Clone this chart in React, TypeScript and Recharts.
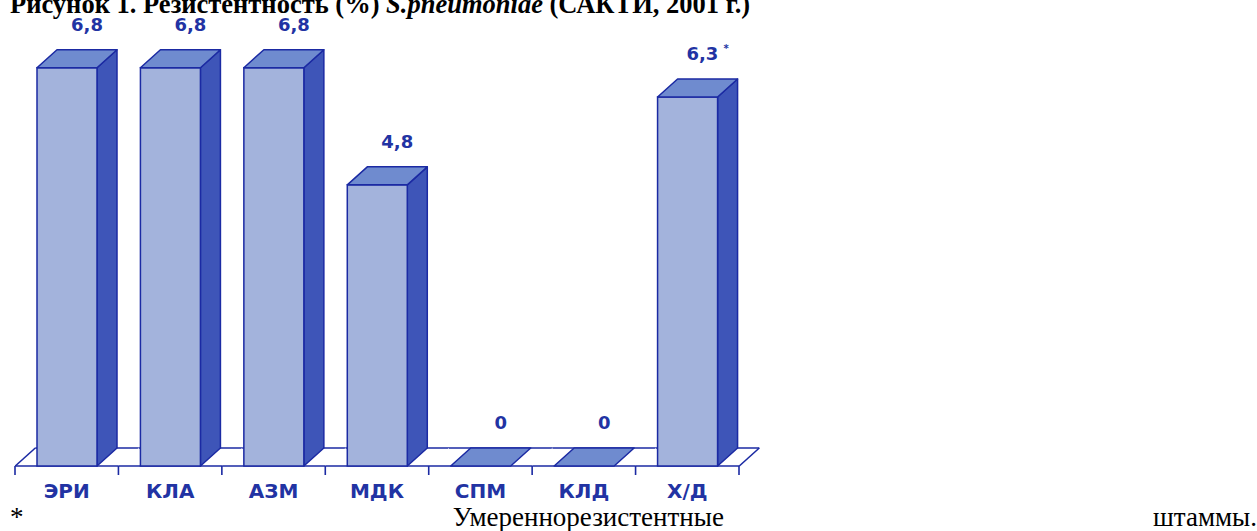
import { BarChart, Bar, XAxis, YAxis, LabelList } from "recharts";

const categories = ["ЭРИ", "КЛА", "АЗМ", "МДК", "СПМ", "КЛД", "Х/Д"];
const resistance = [6.8, 6.8, 6.8, 4.8, 0, 0, 6.3];
const notes = ["", "", "", "", "", "", "*"];

const data = categories.map((name, i) => ({
  name,
  value: resistance[i],
  note: notes[i],
}));

const W = 1257;
const H = 531;
const AXIS_H = 30;
const margin = { top: 56, right: 518, bottom: 35, left: 15 };
const BAND = (W - margin.left - margin.right) / categories.length;
const DX = 20;
const DY = 18;

const STROKE = "#1b2aa3";
const FRONT = "#a3b3dc";
const SIDE = "#3e55b8";
const TOP = "#6f8bcf";
const TEXT = "#2233a3";

const pts = (arr: number[][]) => arr.map((p) => p.join(",")).join(" ");

// 3D bar + its slice of the floor
const Bar3D = (props: any) => {
  const { x, y, width: w, height: h, index } = props;
  const y0 = y + h;
  const bs = x + w / 2 - BAND / 2;
  const last = index === categories.length - 1;
  return (
    <g>
      <polygon
        points={pts([
          [bs, y0],
          [bs + BAND, y0],
          [bs + BAND + DX, y0 - DY],
          [bs + DX, y0 - DY],
        ])}
        fill="#fff"
        stroke="none"
      />
      <line x1={bs} y1={y0} x2={bs + BAND} y2={y0} stroke={STROKE} strokeWidth={1.6} />
      <line x1={bs + DX} y1={y0 - DY} x2={bs + BAND + DX} y2={y0 - DY} stroke={STROKE} strokeWidth={1.6} />
      {index === 0 && (
        <line x1={bs} y1={y0} x2={bs + DX} y2={y0 - DY} stroke={STROKE} strokeWidth={1.6} />
      )}
      {last && (
        <line x1={bs + BAND} y1={y0} x2={bs + BAND + DX} y2={y0 - DY} stroke={STROKE} strokeWidth={1.6} />
      )}
      {h > 0 && (
        <polygon
          points={pts([
            [x + w, y],
            [x + w + DX, y - DY],
            [x + w + DX, y0 - DY],
            [x + w, y0],
          ])}
          fill={SIDE}
          stroke={STROKE}
          strokeWidth={1.5}
          strokeLinejoin="round"
        />
      )}
      {h > 0 && (
        <rect x={x} y={y} width={w} height={h} fill={FRONT} stroke={STROKE} strokeWidth={1.5} />
      )}
      <polygon
        points={pts([
          [x, y],
          [x + DX, y - DY],
          [x + w + DX, y - DY],
          [x + w, y],
        ])}
        fill={TOP}
        stroke={STROKE}
        strokeWidth={1.5}
        strokeLinejoin="round"
      />
    </g>
  );
};

const ValueLabel = (props: any) => {
  const { x, y, width, value, index } = props;
  const note = notes[index];
  return (
    <text
      x={x + width / 2 + 20}
      y={y - 37}
      textAnchor="middle"
      fill={TEXT}
      fontFamily="DejaVu Sans"
      fontWeight="bold"
      fontSize={18}
    >
      {String(value).replace(".", ",")}
      {note && (
        <tspan fontSize={10} dx={5} dy={-8}>
          {note}
        </tspan>
      )}
    </text>
  );
};

const CategoryTick = (props: any) => {
  const { x, y, payload, index } = props;
  const last = index === categories.length - 1;
  return (
    <g>
      <line x1={x - BAND / 2} y1={y} x2={x - BAND / 2} y2={y + 9} stroke={STROKE} strokeWidth={1.6} />
      {last && (
        <line x1={x + BAND / 2} y1={y} x2={x + BAND / 2} y2={y + 9} stroke={STROKE} strokeWidth={1.6} />
      )}
      <text
        x={x}
        y={y + 32}
        textAnchor="middle"
        fill={TEXT}
        fontFamily="DejaVu Sans"
        fontWeight="bold"
        fontSize={20}
      >
        {payload.value}
      </text>
    </g>
  );
};

export default function App() {
  return (
    <div
      style={{
        position: "absolute",
        left: 0,
        top: 0,
        width: W,
        height: H,
        overflow: "hidden",
        background: "#fff",
      }}
    >
      <div style={{ position: "absolute", left: 0, top: 0 }}>
        <BarChart width={W} height={H} data={data} margin={margin}>
          <XAxis
            dataKey="name"
            axisLine={false}
            tickLine={false}
            tickSize={0}
            tickMargin={0}
            height={AXIS_H}
            interval={0}
            tick={<CategoryTick />}
          />
          <YAxis hide domain={[0, 7]} />
          <Bar
            dataKey="value"
            barSize={60}
            shape={<Bar3D />}
            isAnimationActive={false}
          >
            <LabelList dataKey="value" content={<ValueLabel />} />
          </Bar>
        </BarChart>
      </div>
      <div
        style={{
          position: "absolute",
          left: 10,
          top: -9,
          fontFamily: "'Liberation Serif', 'Times New Roman', serif",
          fontWeight: "bold",
          fontSize: 26.5,
          lineHeight: "26.5px",
          whiteSpace: "nowrap",
          color: "#000",
        }}
      >
        Рисунок 1. Резистентность (%) <i>S.pneumoniae</i> (САКТИ, 2001 г.)
      </div>
      <div
        style={{
          position: "absolute",
          left: 10,
          top: 504,
          width: W - 10,
          fontFamily: "'Liberation Serif', 'Times New Roman', serif",
          fontSize: 27,
          lineHeight: "27px",
          textAlign: "justify",
          textAlignLast: "justify",
          whiteSpace: "nowrap",
          color: "#000",
        }}
      >
        * Умереннорезистентные штаммы.
      </div>
    </div>
  );
}
